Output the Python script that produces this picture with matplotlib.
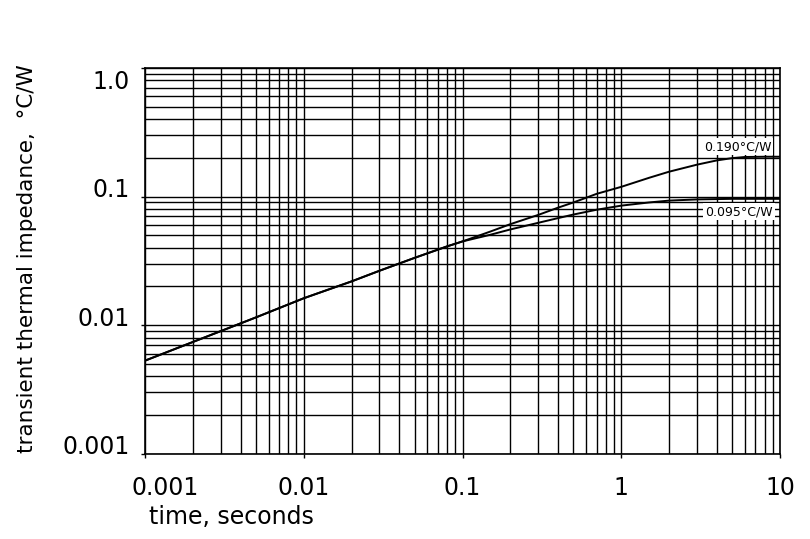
import matplotlib
matplotlib.use('Agg')
from matplotlib import pyplot as plt
from matplotlib.ticker import LogLocator, NullFormatter, FixedLocator
import matplotlib.transforms as mtrans

# readings (time in seconds, impedance in degC/W)
t_common = [0.001, 0.002, 0.005, 0.01, 0.02, 0.03, 0.05, 0.08, 0.1]
z_common = [0.0053, 0.0074, 0.0115, 0.0162, 0.0219, 0.0265, 0.0334, 0.041, 0.0448]

t_upper = [0.15, 0.2, 0.3, 0.4, 0.5, 0.7, 1.0, 1.5, 2.0, 3.0, 4.0, 5.0, 6.0, 8.0, 10.0]
z_upper = [0.0535, 0.061, 0.072, 0.082, 0.090, 0.105, 0.119, 0.140, 0.156, 0.177, 0.191, 0.199, 0.203, 0.204, 0.204]

t_lower = [0.15, 0.2, 0.3, 0.4, 0.5, 0.7, 1.0, 1.5, 2.0, 3.0, 5.0, 10.0]
z_lower = [0.0505, 0.0555, 0.0625, 0.068, 0.0725, 0.079, 0.085, 0.090, 0.093, 0.095, 0.096, 0.096]

xticks = [0.001, 0.01, 0.1, 1, 10]
xticklabels = ['0.001', '0.01', '0.1', '1', '10']
yticks = [0.001, 0.01, 0.1, 1.0]
yticklabels = ['0.001', '0.01', '0.1', '1.0']

fig = plt.figure(figsize=(8.1, 5.39), dpi=100)
ax = fig.add_axes([0.179, 0.158, 0.784, 0.716])

ax.set_xscale('log')
ax.set_yscale('log')
ax.set_xlim(0.001, 10)
ax.set_ylim(0.001, 1.0)

# log paper grid
ax.xaxis.set_major_locator(FixedLocator(xticks))
ax.yaxis.set_major_locator(FixedLocator(yticks))
ax.xaxis.set_minor_locator(LogLocator(base=10, subs=range(2, 10)))
ax.yaxis.set_minor_locator(LogLocator(base=10, subs=range(2, 10)))
ax.xaxis.set_minor_formatter(NullFormatter())
ax.yaxis.set_minor_formatter(NullFormatter())
ax.grid(which='both', color='black', linewidth=1.0)
ax.set_axisbelow(True)

ax.set_xticklabels(xticklabels, fontsize=17)
ax.set_yticklabels(yticklabels, fontsize=17)
ax.tick_params(which='major', length=3, width=1, color='black')
ax.tick_params(which='minor', length=0)
ax.tick_params(axis='x', pad=13)
ax.tick_params(axis='y', pad=8)
for s in ax.spines.values():
    s.set_linewidth(1.2)

# nudge tick labels like on the printed sheet
lab = ax.get_xticklabels()
lab[0].set_transform(lab[0].get_transform() + mtrans.ScaledTranslation(0.2, 0, fig.dpi_scale_trans))
for i, lab in enumerate(ax.get_yticklabels()):
    dy = -0.12 if i == len(yticks) - 1 else 0.09
    lab.set_transform(lab.get_transform() + mtrans.ScaledTranslation(0, dy, fig.dpi_scale_trans))

ax.plot(t_common + t_upper, z_common + z_upper, color='black', linewidth=1.4)
ax.plot(t_common + t_lower, z_common + z_lower, color='black', linewidth=1.4)

ax.text(5.4, 0.244, '0.190°C/W', fontsize=9, ha='center', va='center',
        bbox=dict(facecolor='white', edgecolor='none', pad=1.5))
ax.text(5.5, 0.0765, '0.095°C/W', fontsize=9, ha='center', va='center',
        bbox=dict(facecolor='white', edgecolor='none', pad=1.5))

fig.text(0.286, 0.041, 'time, seconds', fontsize=17, ha='center', va='center')
fig.text(0.033, 0.52, 'transient thermal impedance,  °C/W', fontsize=15.5,
         ha='center', va='center', rotation=90)

plt.savefig('out.png')
